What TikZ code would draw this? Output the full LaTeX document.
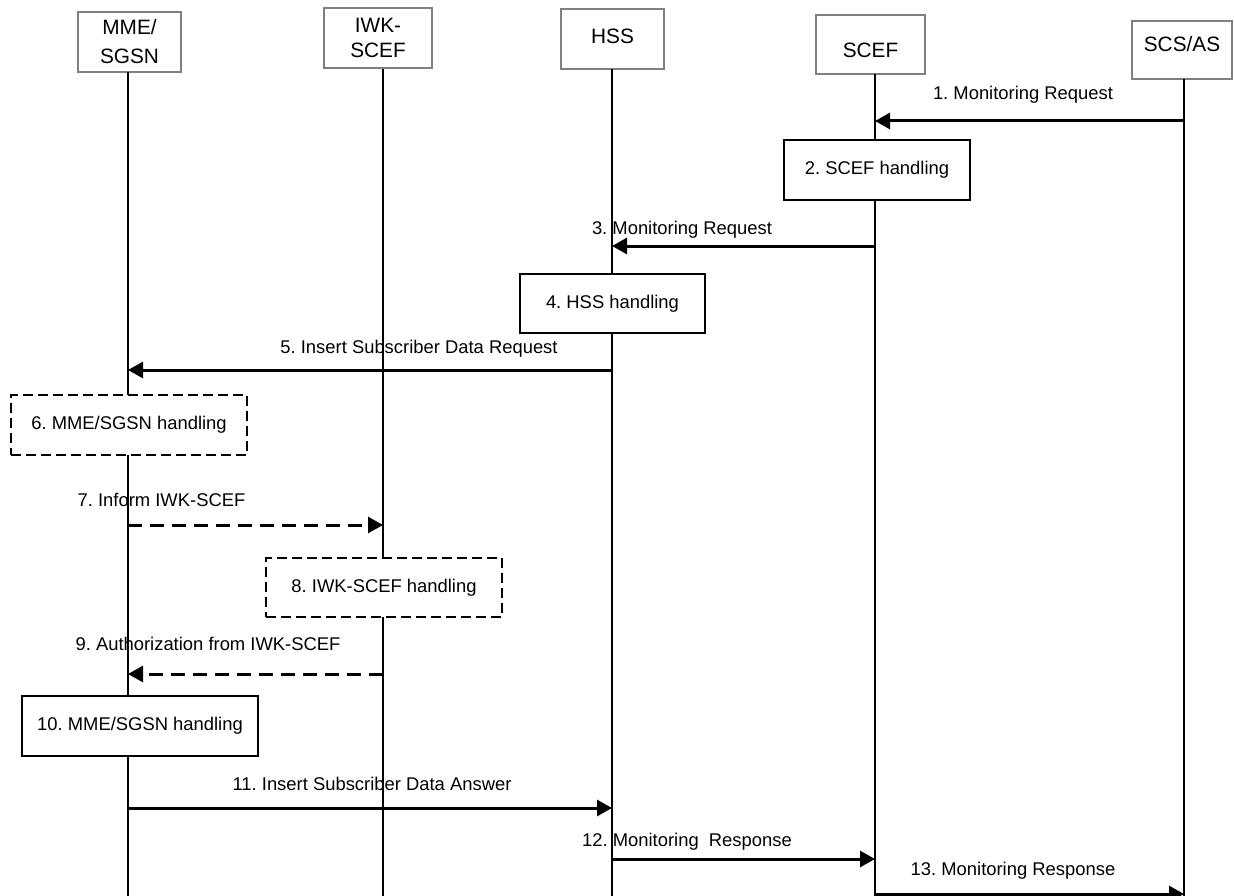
\documentclass[tikz,border=0pt]{standalone}
\usepackage{fontspec}
\setmainfont{Liberation Sans}
\usetikzlibrary{arrows.meta}
\frenchspacing
\begin{document}
\frenchspacing
\begin{tikzpicture}[x=1pt,y=-1pt,
  head/.style={draw=gray, line width=1.2pt, fill=white, inner sep=0pt, align=center,
    font=\fontsize{20.8}{29}\selectfont},
  proc/.style={draw=black, line width=2pt, fill=white, inner sep=0pt,
    minimum width=236pt, minimum height=60pt, font=\fontsize{18.4}{22}\selectfont},
  dproc/.style={proc, dash pattern=on 10pt off 5pt},
  life/.style={line width=1.8pt},
  msg/.style={line width=3pt, -{Triangle[length=15pt,width=16pt]}},
  dmsg/.style={msg, dash pattern=on 14pt off 8pt},
  lbl/.style={font=\fontsize{18.4}{22}\selectfont, inner sep=0pt}
]
\useasboundingbox (0,0) rectangle (1234,896);

% head boxes
\node[head, minimum width=103pt, minimum height=60pt] (mme) at (129.5,42) {MME/\\SGSN};
\node[head, minimum width=108pt, minimum height=60pt, font=\fontsize{20.8}{25}\selectfont] (iwk) at (378,38) {IWK-\\SCEF};
\node[head, minimum width=103pt, minimum height=60pt] (hss) at (612.5,39) {\raisebox{3pt}[\height][\depth]{HSS}};
\node[head, minimum width=109pt, minimum height=59pt] (scef) at (870.5,44.5) {\raisebox{-5.5pt}[\height][\depth]{SCEF}};
\node[head, minimum width=100pt, minimum height=58pt] (scs) at (1182,50) {\raisebox{6pt}[\height][\depth]{SCS/AS}};

% lifeline ends
\coordinate (mmeT) at (128,72);   \coordinate (mmeB) at (128,896);
\coordinate (iwkT) at (383,69);   \coordinate (iwkB) at (383,896);
\coordinate (hssT) at (612,69);   \coordinate (hssB) at (612,896);
\coordinate (scefT) at (875,74);  \coordinate (scefB) at (875,896);
\coordinate (scsT) at (1184,79);  \coordinate (scsB) at (1184,896);

\draw[life] (mmeT) -- (mmeB);
\draw[life] (iwkT) -- (iwkB);
\draw[life] (hssT) -- (hssB);
\draw[life] (scefT) -- (scefB);
\draw[life] (scsT) -- (scsB);

% processing boxes
\node[proc, minimum width=186pt] (p2) at (877,170) {2. SCEF handling};
\node[proc, minimum width=185pt, minimum height=59pt] (p4) at (612.5,303.5) {4. HSS handling};
\node[dproc] (p6) at (129,425) {6. MME/SGSN handling};
\node[dproc, minimum height=59pt] (p8) at (384,587.5) {8. IWK-SCEF handling};
\node[proc] (p10) at (140,726) {10. MME/SGSN handling};

% message end points
\coordinate (m1a) at (1184,121); \coordinate (m1b) at (875,121);
\coordinate (m3a) at (875,246);  \coordinate (m3b) at (612,246);
\coordinate (m5a) at (612,370);  \coordinate (m5b) at (128,370);
\coordinate (m7a) at (128,525);  \coordinate (m7b) at (383,525);
\coordinate (m9a) at (383,674);  \coordinate (m9b) at (128,674);
\coordinate (m11a) at (128,808); \coordinate (m11b) at (612,808);
\coordinate (m12a) at (612,859); \coordinate (m12b) at (875,859);
\coordinate (m13a) at (875,894); \coordinate (m13b) at (1184,894);

\draw[msg] (m1a) -- (m1b);
\draw[msg] (m3a) -- (m3b);
\draw[msg] (m5a) -- (m5b);
\draw[dmsg] (m7a) -- (m7b);
\draw[dmsg] (m9a) -- (m9b);
\draw[msg] (m11a) -- (m11b);
\draw[msg] (m12a) -- (m12b);
\draw[msg] (m13a) -- (m13b);

% labels
\node[lbl] (l1) at (1023,95) {1. Monitoring Request};
\node[lbl] (l3) at (682,230) {3. Monitoring Request};
\node[lbl] (l5) at (419,349) {5. Insert Subscriber Data Request};
\node[lbl] (l7) at (161.5,500) {7. Inform IWK-SCEF};
\node[lbl] (l9) at (208,644) {9. Authorization from IWK-SCEF};
\node[lbl] (l11) at (372,784) {11. Insert Subscriber Data Answer};
\node[lbl] (l12) at (687,842) {12. Monitoring\ \ Response};
\node[lbl] (l13) at (1013,871) {13. Monitoring Response};
\end{tikzpicture}
\end{document}
